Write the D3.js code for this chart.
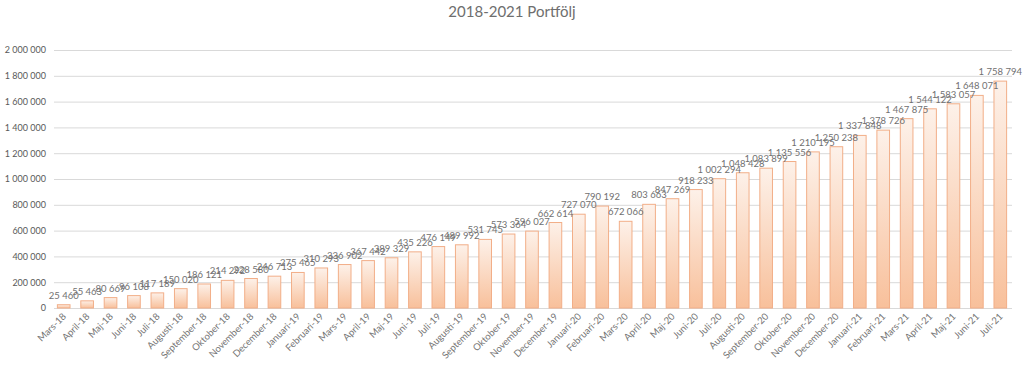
<!DOCTYPE html>
<html>
<head>
<meta charset="utf-8">
<script src="https://cdn.jsdelivr.net/npm/d3@7"></script>
<style>
  body { margin: 0; background: #fff; }
  text { font-family: Lato, "Open Sans", sans-serif; }
</style>
</head>
<body>
<div id="chart"></div>
<script>
// Data
const months = [
  "Mars-18", "April-18", "Maj-18", "Juni-18", "Juli-18", "Augusti-18", "September-18", "Oktober-18", "November-18", "December-18",
  "Januari-19", "Februari-19", "Mars-19", "April-19", "Maj-19", "Juni-19", "Juli-19", "Augusti-19", "September-19", "Oktober-19", "November-19", "December-19",
  "Januari-20", "Februari-20", "Mars-20", "April-20", "Maj-20", "Juni-20", "Juli-20", "Augusti-20", "September-20", "Oktober-20", "November-20", "December-20",
  "Januari-21", "Februari-21", "Mars-21", "April-21", "Maj-21", "Juni-21", "Juli-21"
];
const values = [
  25460, 55463, 80669, 96108, 117189, 150020, 186121, 214292, 228580, 246713,
  275465, 310293, 336902, 367442, 389329, 435226, 476149, 489992, 531745, 573364, 596027, 662614,
  727070, 790192, 672066, 803663, 847269, 918233, 1002294, 1048428, 1083899, 1135556, 1210195, 1250238,
  1337848, 1378726, 1467875, 1544122, 1583057, 1648071, 1758794
];
const yTicks = [0, 200000, 400000, 600000, 800000, 1000000, 1200000, 1400000, 1600000, 1800000, 2000000];

const data = months.map((m, i) => ({month: m, value: values[i]}));

const width = 1024, height = 370;
const margin = {top: 50, right: 12, bottom: 62, left: 52};

const svg = d3.select("#chart").append("svg")
    .attr("width", width)
    .attr("height", height);

// gradient for the bars
const grad = svg.append("defs").append("linearGradient")
    .attr("id", "barGrad")
    .attr("x1", 0).attr("y1", 0).attr("x2", 0).attr("y2", 1);
grad.append("stop").attr("offset", "0%").attr("stop-color", "#fdf1e9");
grad.append("stop").attr("offset", "100%").attr("stop-color", "#f8c09b");

const x = d3.scaleBand()
    .domain(months)
    .range([margin.left, width - margin.right])
    .paddingInner(0.46)
    .paddingOuter(0.23);

const y = d3.scaleLinear()
    .domain([0, 2000000])
    .range([height - margin.bottom, margin.top]);

const fmt = v => d3.format(",")(v).replace(/,/g, " ");

// Title
svg.append("text")
    .attr("x", 512)
    .attr("y", 17)
    .attr("text-anchor", "middle")
    .style("font-size", "15px")
    .style("fill", "#6e6e6e")
    .text("2018-2021 Portfölj");

// Gridlines
svg.append("g")
    .selectAll("line")
    .data(yTicks)
    .join("line")
    .attr("x1", margin.left + 2)
    .attr("x2", width - margin.right)
    .attr("y1", d => y(d) + 0.5)
    .attr("y2", d => y(d) + 0.5)
    .attr("stroke", "#d9d9d9")
    .attr("stroke-width", 1);

// Y axis labels
const yAxis = svg.append("g")
    .attr("transform", `translate(${margin.left - 6},0)`)
    .call(d3.axisLeft(y).tickValues(yTicks).tickFormat(fmt).tickSize(0).tickPadding(0));
yAxis.select(".domain").remove();
yAxis.selectAll("text")
    .style("font-family", "Lato, sans-serif")
    .style("font-size", "9px")
    .style("fill", "#595959");

// Bars
svg.append("g")
    .selectAll("rect")
    .data(data)
    .join("rect")
    .attr("x", d => x(d.month))
    .attr("y", d => y(d.value))
    .attr("width", x.bandwidth())
    .attr("height", d => y(0) - y(d.value))
    .attr("fill", "url(#barGrad)")
    .attr("stroke", "#f2ae88")
    .attr("stroke-width", 1);

// Data labels
svg.append("g")
    .selectAll("text")
    .data(data)
    .join("text")
    .attr("x", d => x(d.month) + x.bandwidth() / 2)
    .attr("y", d => y(d.value) - 6)
    .attr("text-anchor", "middle")
    .style("font-size", "9.5px")
    .style("fill", "#707070")
    .text(d => fmt(d.value));

// Category labels
svg.append("g")
    .selectAll("text")
    .data(data)
    .join("text")
    .attr("transform", d => `translate(${x(d.month) + x.bandwidth() / 2 + 3},${y(0) + 9}) rotate(-45)`)
    .attr("text-anchor", "end")
    .style("font-size", "9.5px")
    .style("fill", "#757575")
    .text(d => d.month);
</script>
</body>
</html>
